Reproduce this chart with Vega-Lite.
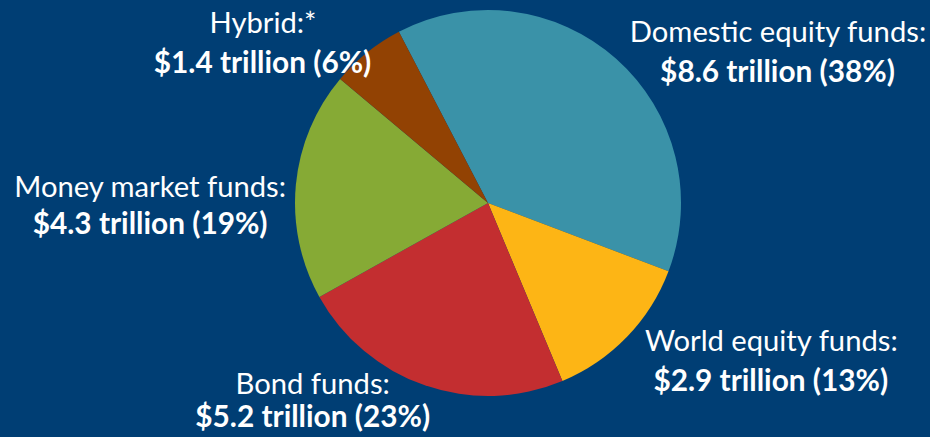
{
  "$schema": "https://vega.github.io/schema/vega-lite/v6.json",
  "width": 884,
  "height": 406,
  "autosize": {"type": "none"},
  "padding": {"left": 46, "top": 0, "right": 0, "bottom": 31},
  "background": "#003E74",
  "view": {"stroke": null},
  "data": {
    "values": [
      {"category": "Domestic equity funds", "name": "Domestic equity funds:", "value": 8.6, "label": "$8.6 trillion (38%)", "rank": 1},
      {"category": "World equity funds", "name": "World equity funds:", "value": 2.9, "label": "$2.9 trillion (13%)", "rank": 2},
      {"category": "Bond funds", "name": "Bond funds:", "value": 5.2, "label": "$5.2 trillion (23%)", "rank": 3},
      {"category": "Money market funds", "name": "Money market funds:", "value": 4.3, "label": "$4.3 trillion (19%)", "rank": 4},
      {"category": "Hybrid", "name": "Hybrid:*", "value": 1.4, "label": "$1.4 trillion (6%)", "rank": 5}
    ]
  },
  "encoding": {
    "theta": {"field": "value", "type": "quantitative", "stack": true, "scale": {"range": [-0.48, 5.8032]}},
    "order": {"field": "rank", "type": "ordinal"},
    "detail": {"field": "category", "type": "nominal"}
  },
  "layer": [
    {
      "mark": {"type": "arc", "outerRadius": 193},
      "encoding": {
        "color": {
          "field": "category",
          "type": "nominal",
          "scale": {
            "domain": ["Domestic equity funds", "World equity funds", "Bond funds", "Money market funds", "Hybrid"],
            "range": ["#3A92A8", "#FDB515", "#C32E30", "#86AA35", "#924203"]
          },
          "legend": null
        }
      }
    },
    {
      "mark": {
        "type": "text",
        "radius": 250,
        "font": "Lato",
        "fontSize": 29.2,
        "fontWeight": "normal",
        "color": "white",
        "align": "center",
        "baseline": "alphabetic",
        "dx": {"expr": "datum.category == 'Domestic equity funds' ? 124 : datum.category == 'World equity funds' ? 103.5 : datum.category == 'Bond funds' ? -93.5 : datum.category == 'Money market funds' ? -89 : -68.5"},
        "dy": {"expr": "datum.category == 'Domestic equity funds' ? 25.7 : datum.category == 'World equity funds' ? -25.3 : datum.category == 'Bond funds' ? -45.7 : datum.category == 'Money market funds' ? 17.8 : 25"}
      },
      "encoding": {"text": {"field": "name", "type": "nominal"}}
    },
    {
      "mark": {
        "type": "text",
        "radius": 250,
        "font": "Lato",
        "fontSize": 29.8,
        "fontWeight": "bold",
        "color": "white",
        "align": "center",
        "baseline": "alphabetic",
        "dx": {"expr": "datum.category == 'Domestic equity funds' ? 123.5 : datum.category == 'World equity funds' ? 103 : datum.category == 'Bond funds' ? -93.5 : datum.category == 'Money market funds' ? -89 : -69"},
        "dy": {"expr": "datum.category == 'Domestic equity funds' ? 65.7 : datum.category == 'World equity funds' ? 14.7 : datum.category == 'Bond funds' ? -12.3 : datum.category == 'Money market funds' ? 54.5 : 65"}
      },
      "encoding": {"text": {"field": "label", "type": "nominal"}}
    }
  ]
}
